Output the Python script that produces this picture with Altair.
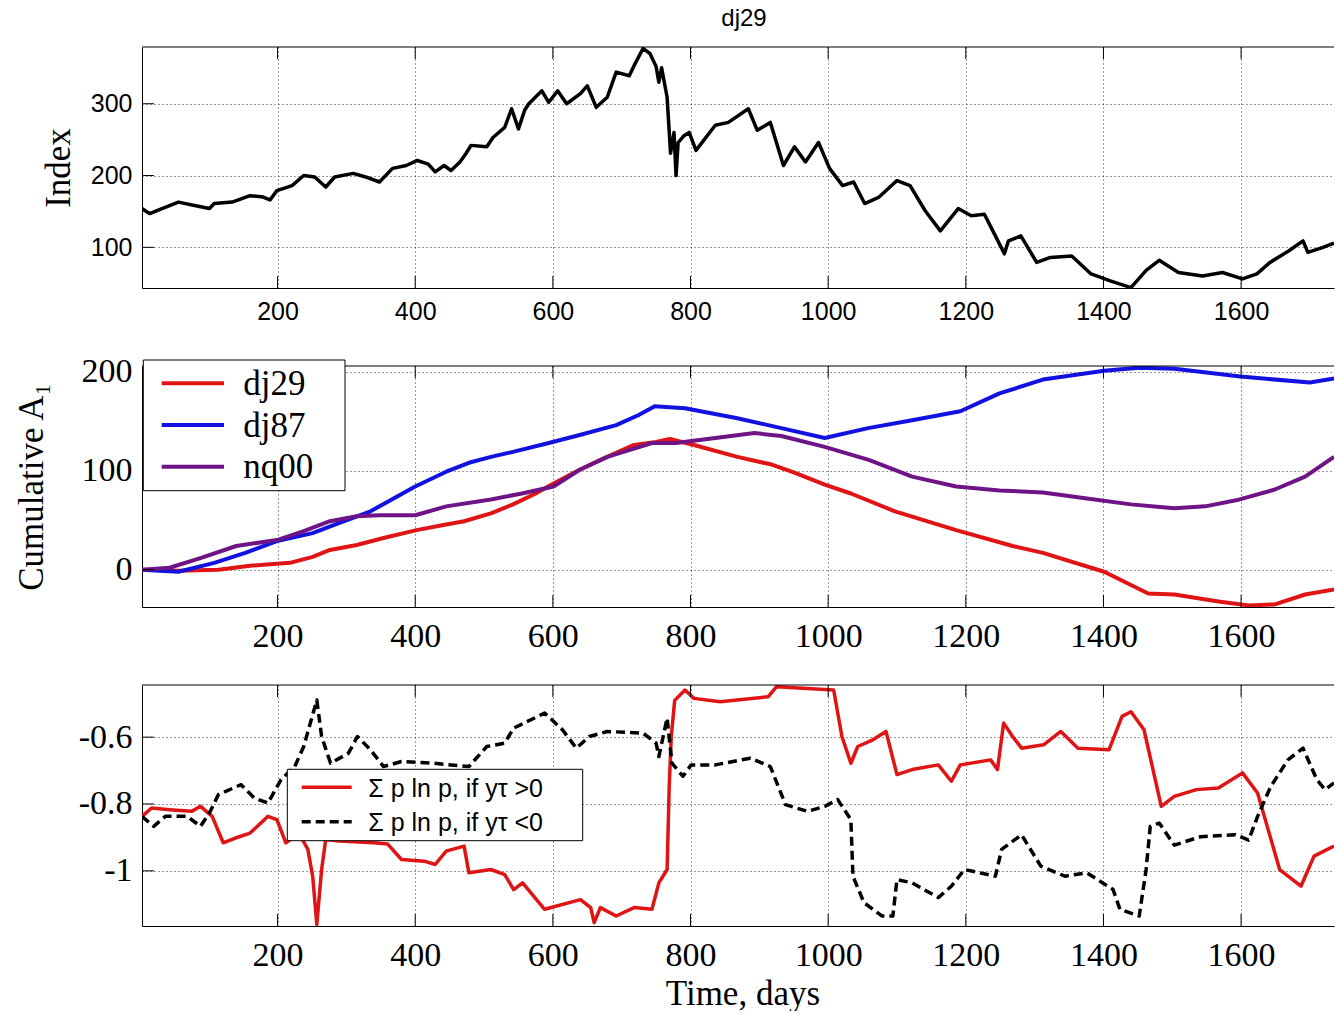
import altair as alt
import pandas as pd

# ---------------- data ----------------
TITLE = "dj29"
X_TICKS = [200, 400, 600, 800, 1000, 1200, 1400, 1600]
X_DOMAIN = [3, 1735]

# Panel 1: index
IDX_T = [3, 14, 43, 56, 81, 101, 108, 134, 160, 179, 189, 199, 221, 238, 254, 270, 283, 310, 328, 348,
         367, 387, 403, 419, 429, 442, 452, 465, 474, 481, 504, 513, 530, 540, 550, 559, 565, 584, 594, 607,
         620, 640, 650, 663, 679, 692, 711, 718, 731, 741, 750, 754, 758, 766, 771, 776, 779, 782, 790, 798,
         808, 836, 855, 884, 897, 916, 935, 951, 967, 986, 1002, 1021, 1037, 1053, 1074, 1100, 1119, 1141,
         1163, 1189, 1208, 1227, 1243, 1256, 1262, 1280, 1303, 1323, 1354, 1382, 1411, 1440, 1462, 1481,
         1509, 1544, 1573, 1602, 1623, 1642, 1669, 1690, 1697, 1719, 1735]
IDX_V = [154, 147, 158, 163, 158, 154, 161, 163, 172, 170, 166, 179, 186, 200, 198, 184, 198, 203, 198, 191,
         210, 214, 221, 216, 205, 214, 207, 219, 231, 242, 240, 253, 267, 293, 265, 291, 300, 318, 302, 318,
         300, 314, 325, 295, 309, 344, 339, 353, 377, 370, 352, 330, 350, 309, 231, 260, 200, 246, 255, 260,
         235, 270, 274, 293, 263, 274, 214, 240, 219, 246, 210, 186, 191, 161, 170, 193, 186, 151,
         123, 154, 144, 146, 116, 91, 109, 116, 79, 86, 88, 63, 53, 44, 68, 82,
         65, 60, 65, 56, 63, 79, 95, 109, 93, 100, 106]
IDX_Y_TICKS = [100, 200, 300]
IDX_DOMAIN = [43.4, 379]

# Panel 2: cumulative A1
A1_SERIES = ["dj29", "dj87", "nq00"]
A1_COLORS = ["#e01414", "#1212e0", "#6e1486"]
DJ29_T = [3, 56, 114, 160, 218, 251, 276, 315, 354, 402, 439, 471, 510, 542, 575, 601, 639, 679, 718, 750,
          770, 805, 868, 919, 951, 995, 1033, 1097, 1186, 1268, 1312, 1401, 1465, 1503, 1567, 1611, 1649,
          1693, 1735]
DJ29_V = [0, -1, 0, 4, 7, 13, 20, 25, 32, 40, 45, 49, 57, 66, 77, 87, 101, 114, 126, 129,
          132, 126, 114, 106, 98, 86, 77, 59, 40, 24, 17, -2, -24, -25, -32, -36, -35,
          -25, -20]
DJ87_T = [3, 56, 108, 153, 199, 251, 289, 335, 400, 445, 478, 510, 542, 594, 639, 692, 724, 748, 792, 868,
          932, 995, 1058, 1122, 1192, 1249, 1312, 1401, 1452, 1503, 1599, 1700, 1735]
DJ87_V = [0, -2, 7, 17, 29, 37, 47, 59, 84, 99, 108, 114, 119, 128, 136, 146, 156, 165, 163, 153,
          143, 133, 143, 151, 160, 178, 192, 201, 204, 203, 195, 189, 193]
NQ00_T = [3, 43, 89, 140, 199, 238, 276, 315, 348, 400, 445, 510, 555, 601, 639, 679, 744, 779, 836, 893,
          932, 995, 1059, 1122, 1186, 1249, 1312, 1376, 1440, 1503, 1548, 1598, 1649, 1693, 1735]
NQ00_V = [0, 2, 12, 24, 30, 39, 49, 54, 55, 55, 64, 71, 77, 84, 101, 114, 128, 128, 133, 138,
          135, 124, 111, 94, 84, 80, 78, 72, 66, 62, 64, 71, 81, 94, 114]
A1_Y_TICKS = [0, 100, 200]
A1_DOMAIN = [-37.6, 205.7]

# Panel 3: sum p ln p
ENT_LABELS = ["\u03a3 p ln p, if y\u03c4 >0", "\u03a3 p ln p, if y\u03c4 <0"]
ENT_COLORS = ["#e01414", "black"]
POS_T = [3, 17, 43, 75, 88, 105, 121, 140, 160, 186, 199, 212, 231, 244, 251, 257, 264, 270, 290, 340,
         360, 380, 413, 429, 445, 471, 478, 510, 530, 543, 556, 588, 640, 655, 660, 669, 692, 718, 744, 754,
         766, 769, 772, 777, 792, 805, 843, 913, 925, 963, 1008, 1020, 1033, 1043, 1065, 1084, 1100, 1122,
         1160, 1179, 1192, 1236, 1246, 1255, 1268, 1281, 1313, 1338, 1363, 1408, 1427, 1440, 1459, 1484,
         1503, 1535, 1567, 1602, 1624, 1656, 1687, 1706, 1735]
POS_V = [-0.837, -0.812, -0.817, -0.822, -0.807, -0.837, -0.916, -0.901, -0.887, -0.837, -0.847, -0.916,
         -0.887, -0.936, -1.016, -1.16, -0.996, -0.906, -0.911, -0.916,
         -0.92, -0.966, -0.971, -0.981, -0.941, -0.926, -1.006, -0.996, -1.011, -1.056, -1.036, -1.115,
         -1.086, -1.11, -1.155, -1.11, -1.135, -1.11, -1.115, -1.036,
         -0.996, -0.75, -0.6, -0.49, -0.459, -0.484, -0.494, -0.479, -0.449, -0.454, -0.459, -0.598, -0.678,
         -0.628, -0.608, -0.583, -0.712, -0.697,
         -0.683, -0.732, -0.683, -0.668, -0.697, -0.558, -0.598, -0.633, -0.623, -0.583, -0.633, -0.638,
         -0.538, -0.524, -0.578, -0.807,
         -0.777, -0.757, -0.752, -0.707, -0.767, -0.996, -1.046, -0.956, -0.926]
NEG_T = [3, 20, 37, 69, 88, 101, 114, 147, 166, 186, 205, 225, 238, 257, 264, 277, 303, 316, 335, 354,
         380, 426, 478, 504, 530, 543, 588, 614, 634, 653, 679, 731, 750, 754, 766, 773, 789, 801, 836, 887,
         916, 938, 970, 995, 1014, 1033, 1036, 1052, 1078, 1094, 1100, 1122, 1160, 1179, 1198, 1243, 1252,
         1281, 1309, 1344, 1376, 1414, 1424, 1452, 1462, 1468, 1481, 1503, 1541, 1592, 1611, 1624, 1643,
         1668, 1690, 1710, 1722, 1735]
NEG_V = [-0.837, -0.867, -0.837, -0.837, -0.867, -0.827, -0.772, -0.742, -0.782, -0.797, -0.727, -0.688,
         -0.628, -0.489, -0.598, -0.678, -0.648, -0.598, -0.638, -0.688,
         -0.673, -0.678, -0.688, -0.628, -0.618, -0.573, -0.528, -0.578, -0.633, -0.598, -0.583, -0.588,
         -0.618, -0.658, -0.543, -0.678, -0.717, -0.683, -0.683, -0.663,
         -0.688, -0.802, -0.822, -0.807, -0.787, -0.847, -1.016, -1.095, -1.135, -1.135, -1.026, -1.036,
         -1.08, -1.046, -0.996, -1.016, -0.936,
         -0.892, -0.986, -1.016, -1.006, -1.056, -1.115, -1.135, -0.996, -0.867, -0.857, -0.923, -0.898,
         -0.892, -0.908, -0.837, -0.748,
         -0.668, -0.633, -0.727, -0.757, -0.737]
ENT_Y_TICKS = [-1, -0.8, -0.6]
ENT_DOMAIN = [-1.165, -0.444]

# ---------------- layout ----------------
W, H = 1192, 241
SERIF = "Liberation Serif"
SANS = "Liberation Sans"


def one_row():
    return alt.Data(values=[{"k": 0}])


GRID = dict(grid=True, gridDash=[1, 3], gridColor="#000000", gridWidth=1, gridOpacity=0.8,
            ticks=False, tickSize=0, domain=True, domainColor="black", domainWidth=1,
            labelColor="black", labelOverlap=False, labelFlush=False)


def x_axis(font, size, pad, **kw):
    args = dict(GRID)
    args.update(values=X_TICKS, format="d", labelFont=font, labelFontSize=size,
                labelPadding=pad, labelBaseline="alphabetic")
    args.update(kw)
    return alt.Axis(**args)


def y_axis(values, font, size, **kw):
    args = dict(GRID)
    args.update(values=values, labelFont=font, labelFontSize=size, labelPadding=10,
                labelBaseline="middle")
    args.update(kw)
    return alt.Axis(**args)


def panel(lines, xaxis, ydomain, yticks, yaxis, extra):
    xs = alt.Scale(domain=X_DOMAIN, nice=False, zero=False)
    ys = alt.Scale(domain=ydomain, nice=False, zero=False)

    def X(f):
        return alt.X(f, type="quantitative", scale=xs, axis=xaxis)

    def Y(f):
        return alt.Y(f, type="quantitative", scale=ys, axis=yaxis)

    layers = []
    for t, v, color, width, dash in lines:
        df = pd.DataFrame({"t": t, "v": v})
        mk = dict(color=color, strokeWidth=width, clip=True, strokeJoin="round")
        if dash:
            mk["strokeDash"] = dash
        layers.append(alt.Chart(df).mark_line(**mk).encode(x=X("t"), y=Y("v")))
    xt = pd.DataFrame({"t": X_TICKS})
    yt = pd.DataFrame({"v": yticks})
    layers.append(alt.Chart(xt).mark_rule(color="black", strokeWidth=1).encode(
        x=X("t"), y=alt.value(H), y2=alt.value(H - 12)))
    layers.append(alt.Chart(xt).mark_rule(color="black", strokeWidth=1).encode(
        x=X("t"), y=alt.value(0), y2=alt.value(12)))
    layers.append(alt.Chart(yt).mark_rule(color="black", strokeWidth=1).encode(
        y=Y("v"), x=alt.value(0), x2=alt.value(12)))
    layers.append(alt.Chart(one_row()).mark_rule(color="black", strokeWidth=1).encode(
        x=alt.value(0), x2=alt.value(W), y=alt.value(0)))
    layers += extra
    return alt.layer(*layers).properties(width=W, height=H)


# ----- panel 1 -----
p1_extra = [
    alt.Chart(one_row()).mark_rect(color="white").encode(
        x=alt.value(-142), x2=alt.value(-141), y=alt.value(-47), y2=alt.value(-46)),
    alt.Chart(one_row()).mark_text(text=TITLE, font=SANS, fontSize=24, align="center",
                                   baseline="alphabetic", color="black").encode(
        x=alt.value(602), y=alt.value(-21)),
]
p1 = panel(
    [(IDX_T, IDX_V, "black", 3.5, None)],
    x_axis(SANS, 25, 31.6, title=None),
    IDX_DOMAIN, IDX_Y_TICKS,
    y_axis(IDX_Y_TICKS, SANS, 25, format="d", title="Index", titleFont=SERIF, titleFontSize=35,
           titleFontWeight="normal", titleColor="black", titleAngle=270, titleAlign="center",
           titleBaseline="alphabetic", titleX=-73, titleY=120.5),
    p1_extra,
)

# ----- panel 2 -----
p2_extra = [
    alt.Chart(one_row()).mark_rect(fill="white", stroke="black", strokeWidth=1).encode(
        x=alt.value(1.3), x2=alt.value(203), y=alt.value(-6), y2=alt.value(124.7)),
]
for i, (name, color) in enumerate(zip(A1_SERIES, A1_COLORS)):
    yy = 17.3 + 41.7 * i
    p2_extra.append(alt.Chart(one_row()).mark_rule(color=color, strokeWidth=4).encode(
        x=alt.value(19.7), x2=alt.value(82), y=alt.value(yy)))
    p2_extra.append(alt.Chart(one_row()).mark_text(text=name, font=SERIF, fontSize=35, align="left",
                                                   baseline="alphabetic", color="black").encode(
        x=alt.value(101.3), y=alt.value(yy + 11.7)))
p2 = panel(
    [(DJ29_T, DJ29_V, A1_COLORS[0], 4, None),
     (DJ87_T, DJ87_V, A1_COLORS[1], 4, None),
     (NQ00_T, NQ00_V, A1_COLORS[2], 4, None)],
    x_axis(SERIF, 34, 39.5, title=None),
    A1_DOMAIN, A1_Y_TICKS,
    y_axis(A1_Y_TICKS, SERIF, 34, format="d", title="Cumulative A\u2081", titleFont=SERIF,
           titleFontSize=35, titleFontWeight="normal", titleColor="black", titleAngle=270,
           titleAlign="center", titleBaseline="alphabetic", titleX=-100, titleY=120.5),
    p2_extra,
)

# ----- panel 3 -----
p3_extra = [
    alt.Chart(one_row()).mark_rect(fill="white", stroke="black", strokeWidth=1).encode(
        x=alt.value(145.3), x2=alt.value(440.7), y=alt.value(84.3), y2=alt.value(155.7)),
]
dashes = [None, [9, 5]]
for i, (lab, color) in enumerate(zip(ENT_LABELS, ENT_COLORS)):
    yy = 102.3 + 34.4 * i
    mk = dict(color=color, strokeWidth=3.5)
    if dashes[i]:
        mk["strokeDash"] = dashes[i]
    p3_extra.append(alt.Chart(one_row()).mark_rule(**mk).encode(
        x=alt.value(159.7), x2=alt.value(209.7), y=alt.value(yy)))
    p3_extra.append(alt.Chart(one_row()).mark_text(text=lab, font=SANS, fontSize=25, align="left",
                                                   baseline="alphabetic", color="black").encode(
        x=alt.value(226.3), y=alt.value(yy + 9.2)))
p3 = panel(
    [(POS_T, POS_V, ENT_COLORS[0], 3.5, None),
     (NEG_T, NEG_V, ENT_COLORS[1], 3.5, [9, 5])],
    x_axis(SERIF, 34, 39.5, title="Time, days", titleFont=SERIF, titleFontSize=35,
           titleFontWeight="normal", titleColor="black", titleAlign="center",
           titleBaseline="alphabetic", titleX=600.4, titleY=78),
    ENT_DOMAIN, ENT_Y_TICKS,
    y_axis(ENT_Y_TICKS, SERIF, 34, labelExpr="'' + datum.value", title=None),
    p3_extra,
)

chart = alt.vconcat(p1, p2, p3, spacing=78, bounds="flush").properties(
    padding={"left": 0, "top": 0, "right": 0, "bottom": 0}
).configure_view(stroke=None)

chart.save("out.html", embed_options={"renderer": "svg", "actions": False})
